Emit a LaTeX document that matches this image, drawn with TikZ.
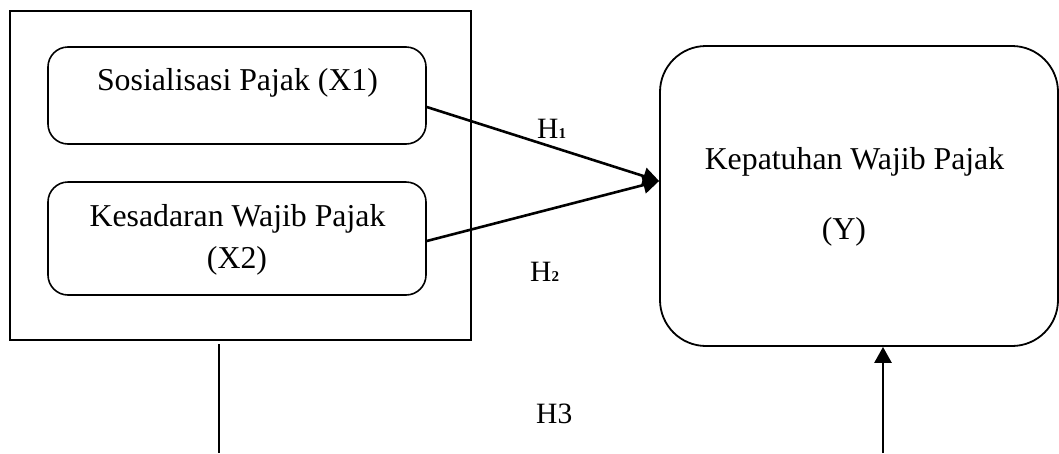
\documentclass[tikz,border=0pt]{standalone}
\usepackage{fontspec}
\setmainfont{Liberation Serif}
\usetikzlibrary{arrows.meta,calc}
\begin{document}
\begin{tikzpicture}[x=1pt,y=-1pt,
  framebox/.style={draw, line width=2pt, inner sep=0pt},
  varbox/.style={draw, line width=1.6pt, rounded corners=20pt, inner sep=0pt, minimum width=378pt},
  ybox/.style={draw, line width=1.8pt, rounded corners=46pt, inner sep=0pt},
  txt/.style={font=\fontsize{31.8}{38}\selectfont, inner sep=0pt, anchor=base},
  hlab/.style={font=\fontsize{29.5}{34}\selectfont, inner sep=0pt},
  arr/.style={-{Triangle[length=16pt,width=17pt]}, line width=2.6pt},
  plain/.style={line width=2pt}
]
\useasboundingbox (0,0) rectangle (1059,453);
\node[framebox, minimum width=461pt, minimum height=329pt] (outer) at (240.5,175.5) {};
\node[varbox, minimum height=97pt] (b1) at (237,95.5) {};
\node[varbox, minimum height=113pt] (b2) at (237,238.5) {};
\node[txt] (t1) at (237.5,90) {Sosialisasi Pajak (X1)};
\node[txt] (t2a) at (237.5,226) {Kesadaran Wajib Pajak};
\node[txt] (t2b) at (237,268) {(X2)};
\node[ybox, minimum width=398pt, minimum height=300pt] (y) at (859,196) {};
\node[txt] (ty1) at (854.5,169) {Kepatuhan Wajib Pajak};
\node[txt] (ty2) at (844,239) {(Y)};
\node[hlab, anchor=base west] (h1) at (537,138) {H{\fontsize{15}{15}\selectfont\bfseries 1}};
\node[hlab, anchor=base west] (h2) at (530,281) {H{\fontsize{15}{15}\selectfont\bfseries 2}};
\node[hlab, anchor=base west] (h3) at (536,423) {H3};
\coordinate (lbot) at (219,453);
\coordinate (abot) at (883,453);
\draw[arr] ($(b1.east)+(0,11.5)$) -- ($(y.west)+(0,-15)$);
\draw[arr] ($(b2.east)+(0,2.5)$) -- ($(y.west)+(0,-15)$);
\draw[plain] ($(outer.south)+(-21.5,3)$) -- (lbot);
\draw[arr] (abot) -- (y.south -| abot);
\end{tikzpicture}
\end{document}
